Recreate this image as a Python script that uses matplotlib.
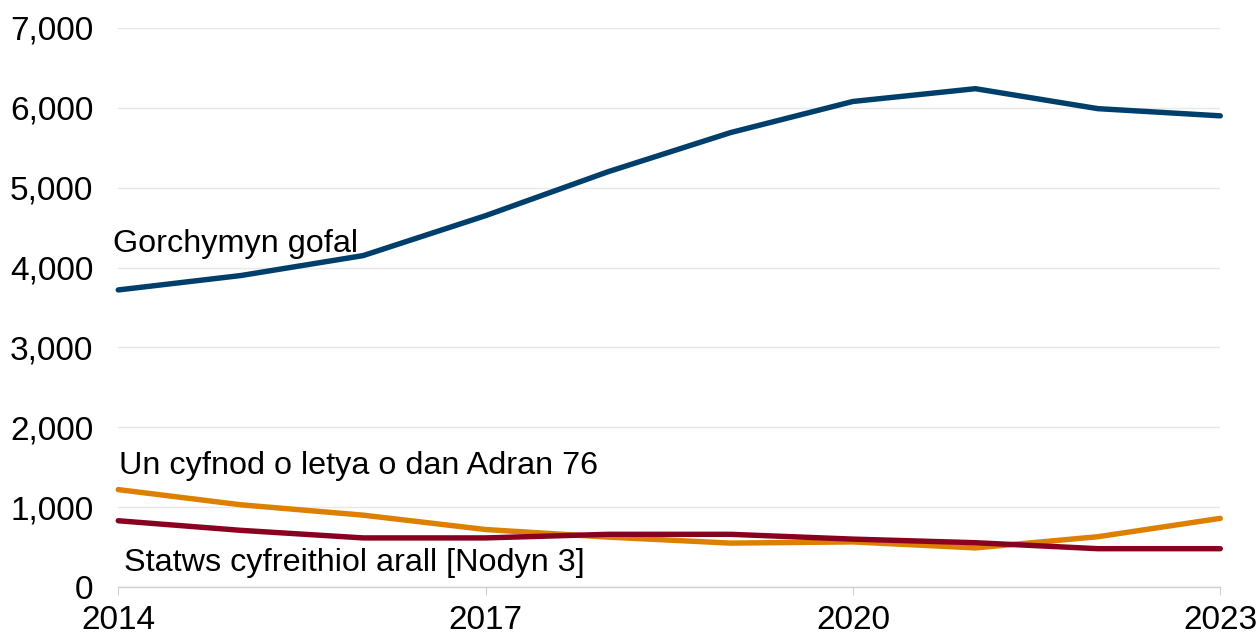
import matplotlib.pyplot as plt
from matplotlib.ticker import FuncFormatter

plt.rcParams['font.family'] = ['Liberation Sans', 'DejaVu Sans']

years = [2014, 2015, 2016, 2017, 2018, 2019, 2020, 2021, 2022, 2023]
care_order = [3720, 3900, 4150, 4650, 5200, 5690, 6080, 6240, 5990, 5900]
section_76 = [1220, 1030, 900, 720, 625, 550, 565, 490, 630, 860]
other_status = [830, 710, 615, 615, 660, 660, 600, 555, 480, 480]

series_labels = ["Gorchymyn gofal", "Un cyfnod o letya o dan Adran 76",
                 "Statws cyfreithiol arall [Nodyn 3]"]
colors = ["#003F6B", "#DD8000", "#8A0021"]

fig = plt.figure(figsize=(12.58, 6.36), dpi=100)
ax = fig.add_axes([0.094, 0.077, 0.876, 0.879])

# lines
for vals, c in zip([care_order, section_76, other_status], colors):
    ax.plot(years, vals, color=c, lw=3.9, solid_capstyle='round',
            solid_joinstyle='round', clip_on=False, zorder=3)

# inline labels
ax.text(2013.96, 4300, series_labels[0], fontsize=23.3, va='center', ha='left')
ax.text(2014.01, 1510, series_labels[1], fontsize=23.3, va='center', ha='left')
ax.text(2014.05, 300, series_labels[2], fontsize=23.3, va='center', ha='left')

ax.set_xlim(2014, 2023)
ax.set_ylim(0, 7000)
ax.set_yticks(range(0, 7001, 1000))
ax.yaxis.set_major_formatter(FuncFormatter(lambda v, p: f"{int(v):,}"))
ax.set_xticks([2014, 2017, 2020, 2023])

ax.grid(axis='y', color='#e8e8e8', lw=1)
ax.set_axisbelow(True)
for s in ['top', 'right', 'left']:
    ax.spines[s].set_visible(False)
ax.spines['bottom'].set_color('#d0d0d0')
ax.spines['bottom'].set_linewidth(1)

ax.tick_params(axis='y', length=0, labelsize=24, pad=18)
ax.tick_params(axis='x', length=6, color='#d0d0d0', labelsize=24, pad=7)

fig.savefig("out.png", dpi=100)
